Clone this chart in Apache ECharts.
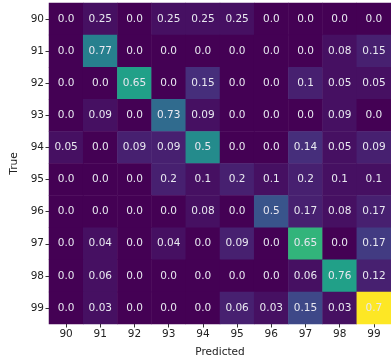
<!DOCTYPE html>
<html>
<head>
<meta charset="utf-8">
<script src="https://cdn.jsdelivr.net/npm/echarts@6/dist/echarts.min.js"></script>
<style>
html,body{margin:0;padding:0;background:#fff;}
#c{width:391px;height:363px;}
</style>
</head>
<body>
<div id="c"></div>
<script>
// Class labels
const predictedLabels = ['90','91','92','93','94','95','96','97','98','99'];
const trueLabels = ['90','91','92','93','94','95','96','97','98','99'];

// Row-normalised values shown in each cell (rows = True, columns = Predicted)
const proportions = [
  [0.0, 0.25, 0.0, 0.25, 0.25, 0.25, 0.0, 0.0, 0.0, 0.0],
  [0.0, 0.77, 0.0, 0.0, 0.0, 0.0, 0.0, 0.0, 0.08, 0.15],
  [0.0, 0.0, 0.65, 0.0, 0.15, 0.0, 0.0, 0.1, 0.05, 0.05],
  [0.0, 0.09, 0.0, 0.73, 0.09, 0.0, 0.0, 0.0, 0.09, 0.0],
  [0.05, 0.0, 0.09, 0.09, 0.5, 0.0, 0.0, 0.14, 0.05, 0.09],
  [0.0, 0.0, 0.0, 0.2, 0.1, 0.2, 0.1, 0.2, 0.1, 0.1],
  [0.0, 0.0, 0.0, 0.0, 0.08, 0.0, 0.5, 0.17, 0.08, 0.17],
  [0.0, 0.04, 0.0, 0.04, 0.0, 0.09, 0.0, 0.65, 0.0, 0.17],
  [0.0, 0.06, 0.0, 0.0, 0.0, 0.0, 0.0, 0.06, 0.76, 0.12],
  [0.0, 0.03, 0.0, 0.0, 0.0, 0.06, 0.03, 0.15, 0.03, 0.7]
];

// Raw counts that drive the cell colour
const counts = [
  [0, 1, 0, 1, 1, 1, 0, 0, 0, 0],
  [0, 10, 0, 0, 0, 0, 0, 0, 1, 2],
  [0, 0, 13, 0, 3, 0, 0, 2, 1, 1],
  [0, 1, 0, 8, 1, 0, 0, 0, 1, 0],
  [1, 0, 2, 2, 11, 0, 0, 3, 1, 2],
  [0, 0, 0, 2, 1, 2, 1, 2, 1, 1],
  [0, 0, 0, 0, 1, 0, 6, 2, 1, 2],
  [0, 1, 0, 1, 0, 2, 0, 15, 0, 4],
  [0, 1, 0, 0, 0, 0, 0, 1, 13, 2],
  [0, 1, 0, 0, 0, 2, 1, 5, 1, 23]
];

const data = [];
for (let r = 0; r < trueLabels.length; r++) {
  for (let c = 0; c < predictedLabels.length; c++) {
    data.push([c, r, counts[r][c], proportions[r][c]]);
  }
}

const fmt = v => (Number.isInteger(v) ? v.toFixed(1) : String(v));
const font = 'DejaVu Sans';

const chart = echarts.init(document.getElementById('c'), null, {renderer: 'canvas'});
chart.setOption({
  animation: false,
  backgroundColor: '#ffffff',
  grid: {left: 49, right: 0, top: 3, bottom: 30, containLabel: false},
  xAxis: {
    type: 'category',
    data: predictedLabels,
    name: 'Predicted',
    nameLocation: 'middle',
    nameGap: 23,
    nameTextStyle: {color: '#222', fontFamily: font, fontSize: 10.5},
    axisLine: {show: false},
    axisTick: {show: true, alignWithLabel: true, length: 3.5, lineStyle: {color: '#333'}},
    axisLabel: {color: '#222', fontFamily: font, fontSize: 10.5, margin: 5},
    splitArea: {show: false}
  },
  yAxis: {
    type: 'category',
    data: trueLabels,
    inverse: true,
    name: 'True',
    nameLocation: 'middle',
    nameGap: 26,
    nameRotate: 90,
    nameTextStyle: {color: '#222', fontFamily: font, fontSize: 10.5},
    axisLine: {show: false},
    axisTick: {show: true, alignWithLabel: true, length: 3.5, lineStyle: {color: '#333'}},
    axisLabel: {color: '#222', fontFamily: font, fontSize: 10.5, margin: 5},
    splitArea: {show: false}
  },
  visualMap: {
    show: false,
    type: 'continuous',
    dimension: 2,
    min: 0,
    max: 23,
    inRange: {
      color: ['#440154','#482878','#3e4989','#31688e','#26828e','#1f9e89','#35b779','#6ece58','#b5de2b','#fde725']
    }
  },
  series: [{
    type: 'heatmap',
    data: data,
    label: {
      show: true,
      color: '#e8e8f0',
      fontFamily: font,
      fontSize: 10.5,
      formatter: p => fmt(p.value[3])
    },
    itemStyle: {borderWidth: 0},
    emphasis: {disabled: true}
  }]
});
</script>
</body>
</html>
